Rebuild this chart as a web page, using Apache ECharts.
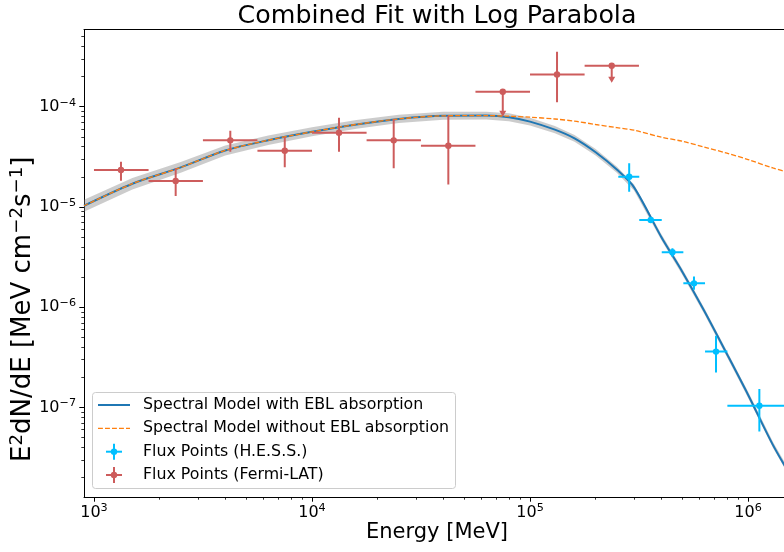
<!DOCTYPE html>
<html><head><meta charset="utf-8">
<script src="https://cdn.jsdelivr.net/npm/echarts@6/dist/echarts.min.js"></script>
<style>html,body{margin:0;padding:0;background:#fff}#c{width:784px;height:552px}</style>
</head><body><div id="c"></div>
<script>
// ---------------- data ----------------
const modelE = [900, 1500, 2500, 4000, 6300, 10000, 16000, 25000, 40000, 63000, 80000, 100000, 130000, 160000, 200000, 250000, 300000, 400000, 500000, 630000, 800000, 1000000, 1300000, 1600000];
const fluxWithEbl = [1.028e-5, 1.706e-5, 2.48e-5, 3.66e-5, 4.63e-5, 5.62e-5, 6.66e-5, 7.55e-5, 8.11e-5, 8.15e-5, 7.87e-5, 7.10e-5, 5.90e-5, 4.83e-5, 3.51e-5, 2.36e-5, 1.57e-5, 5.02e-6, 2.25e-6, 9.18e-7, 3.42e-7, 1.34e-7, 4.24e-8, 1.94e-8];
const fluxWithoutEbl = [1.028e-5, 1.706e-5, 2.48e-5, 3.66e-5, 4.63e-5, 5.62e-5, 6.66e-5, 7.55e-5, 8.11e-5, 8.15e-5, 8.04e-5, 7.86e-5, 7.54e-5, 7.18e-5, 6.65e-5, 6.18e-5, 5.83e-5, 4.97e-5, 4.52e-5, 3.96e-5, 3.44e-5, 2.97e-5, 2.45e-5, 2.15e-5];
const bandLow = [8.95e-6, 1.497e-5, 2.19e-5, 3.26e-5, 4.16e-5, 5.07e-5, 6.03e-5, 6.87e-5, 7.40e-5, 7.44e-5, 7.18e-5, 6.51e-5, 5.43e-5, 4.47e-5, 3.26e-5, 2.20e-5, 1.46e-5, 4.68e-6, 2.10e-6, 8.56e-7, 3.19e-7, 1.25e-7, 3.96e-8, 1.81e-8];
const bandHigh = [1.18e-5, 1.945e-5, 2.81e-5, 4.11e-5, 5.16e-5, 6.23e-5, 7.35e-5, 8.30e-5, 8.89e-5, 8.93e-5, 8.62e-5, 7.75e-5, 6.41e-5, 5.22e-5, 3.78e-5, 2.53e-5, 1.68e-5, 5.38e-6, 2.41e-6, 9.84e-7, 3.67e-7, 1.44e-7, 4.55e-8, 2.08e-8];

const fermiE   = [1330, 2370, 4220, 7500, 13300, 23700, 42200, 75000, 133000, 237000];
const fermiElo = [1000, 1780, 3160, 5620, 10000, 17800, 31600, 56200, 100000, 178000];
const fermiEhi = [1780, 3160, 5620, 10000, 17800, 31600, 56200, 100000, 178000, 316000];
const fermiF   = [2.34e-5, 1.82e-5, 4.62e-5, 3.64e-5, 5.51e-5, 4.62e-5, 4.08e-5, 1.41e-4, 2.10e-4, 2.56e-4];
const fermiFlo = [1.83e-5, 1.29e-5, 3.56e-5, 2.49e-5, 3.56e-5, 2.43e-5, 1.68e-5, 8.91e-5, 1.11e-4, 1.94e-4];
const fermiFhi = [2.83e-5, 2.43e-5, 5.77e-5, 4.95e-5, 7.77e-5, 7.48e-5, 8.13e-5, 1.41e-4, 3.53e-4, 2.56e-4];
const fermiUpperLimit = [0, 0, 0, 0, 0, 0, 0, 1, 0, 1];

const hessE   = [285000, 358000, 450000, 565000, 713000, 1127000];
const hessElo = [254000, 317000, 402000, 505000, 635000, 804000];
const hessEhi = [317000, 402000, 505000, 635000, 804000, 1570000];
const hessF   = [2.00e-5, 7.41e-6, 3.53e-6, 1.73e-6, 3.61e-7, 1.04e-7];
const hessFlo = [1.42e-5, 7.05e-6, 3.19e-6, 1.49e-6, 2.23e-7, 5.75e-8];
const hessFhi = [2.73e-5, 7.80e-6, 3.87e-6, 2.02e-6, 5.18e-7, 1.53e-7];

const xMajorTicks = [1e3, 1e4, 1e5, 1e6];
const yMajorTicks = [1e-7, 1e-6, 1e-5, 1e-4];
const xRange = [900, 1.462e6];
const yRange = [1.28e-8, 5.89e-4];

const titleText = 'Combined Fit with Log Parabola';
const xName = 'Energy [MeV]';
const yNameRich = 'E{s|2}dN/dE [MeV cm{s|−2}s{s|−1}]';
const legendNames = ['Spectral Model with EBL absorption', 'Spectral Model without EBL absorption', 'Flux Points (H.E.S.S.)', 'Flux Points (Fermi-LAT)'];

// ---------------- styling ----------------
const FONT = 'DejaVu Sans';
const C_EBL = '#1f77b4', C_NOEBL = '#ff7f0e', C_HESS = '#00bfff', C_FERMI = '#cd5c5c';

function powLabel(v) {
  const e = Math.round(v);
  return '{b|10}{s|' + (e < 0 ? '−' + (-e) : String(e)) + '}';
}
const tickRich = {
  b: {fontFamily: FONT, fontSize: 16, color: '#000'},
  s: {fontFamily: FONT, fontSize: 11.2, color: '#000', padding: [0, 0, 8, 0]}
};
function minorTicks(lo, hi) {
  const out = [];
  for (let p = Math.floor(Math.log10(lo)); p <= Math.ceil(Math.log10(hi)); p++) {
    for (let m = 2; m <= 9; m++) {
      const v = m * Math.pow(10, p);
      if (v > lo && v < hi) out.push(Math.log10(v));
    }
  }
  return out;
}
const lx = xRange.map(Math.log10), ly = yRange.map(Math.log10);

function errorbarRenderer(color) {
  return function (params, api) {
    const x = api.value(0), y = api.value(1);
    const c = api.coord([x, y]);
    const l = api.coord([api.value(2), y]), r = api.coord([api.value(3), y]);
    const lo = api.coord([x, api.value(4)]), hi = api.coord([x, api.value(5)]);
    const ul = api.value(6) === 1;
    const ls = {stroke: color, lineWidth: 2, fill: null};
    const children = [
      {type: 'line', shape: {x1: l[0], y1: c[1], x2: r[0], y2: c[1]}, style: ls},
      {type: 'line', shape: {x1: c[0], y1: hi[1], x2: c[0], y2: lo[1]}, style: ls}
    ];
    if (ul) {
      children.push({type: 'polygon', shape: {points: [[c[0] - 3.5, lo[1] - 1], [c[0] + 3.5, lo[1] - 1], [c[0], lo[1] + 5]]}, style: {fill: color}});
    }
    children.push({type: 'circle', shape: {cx: c[0], cy: c[1], r: 3.2}, style: {fill: color}});
    return {type: 'group', children};
  };
}

const fermiData = fermiE.map((e, i) => [e, fermiF[i], fermiElo[i], fermiEhi[i], fermiFlo[i], fermiFhi[i], fermiUpperLimit[i]]);
const hessData = hessE.map((e, i) => [e, hessF[i], hessElo[i], hessEhi[i], hessFlo[i], hessFhi[i], 0]);
const bandData = modelE.map((e, i) => [e, bandLow[i], bandHigh[i]]);

const chart = echarts.init(document.getElementById('c'), null, {renderer: 'canvas'});

const valueAxisBase = {type: 'value', splitLine: {show: false}, axisLine: {onZero: false}};

const legendRows = [405, 428.3, 451.7, 475];
function crossHandle(y, color) {
  return [
    {type: 'line', shape: {x1: 106, y1: y, x2: 122, y2: y}, style: {stroke: color, lineWidth: 2}, z: 101},
    {type: 'line', shape: {x1: 114, y1: y - 8, x2: 114, y2: y + 8}, style: {stroke: color, lineWidth: 2}, z: 101},
    {type: 'circle', shape: {cx: 114, cy: y, r: 3.2}, style: {fill: color}, z: 101}
  ];
}
const legendGraphic = [
  {type: 'rect', shape: {x: 92.5, y: 392.5, width: 363, height: 96, r: 3}, style: {fill: 'rgba(255,255,255,0.8)', stroke: '#cccccc', lineWidth: 1}, z: 100},
  {type: 'line', shape: {x1: 98, y1: legendRows[0], x2: 130, y2: legendRows[0]}, style: {stroke: C_EBL, lineWidth: 2}, z: 101},
  {type: 'line', shape: {x1: 98, y1: legendRows[1], x2: 130, y2: legendRows[1]}, style: {stroke: C_NOEBL, lineWidth: 1.33, lineDash: [4.9, 2.1]}, z: 101},
  ...crossHandle(legendRows[2], C_HESS),
  ...crossHandle(legendRows[3], C_FERMI)
].concat(legendNames.map((t, i) => ({
  type: 'text', x: 143, y: legendRows[i], z: 101,
  style: {text: t, fontSize: 15.8, fontFamily: FONT, fill: '#000', align: 'left', verticalAlign: 'middle'}
})));

chart.setOption({
  animation: false,
  textStyle: {fontFamily: FONT},
  title: {
    text: titleText, left: 437, top: 4, padding: 0, textAlign: 'center',
    textStyle: {fontFamily: FONT, fontSize: 25.3, fontWeight: 'normal', color: '#000'}
  },
  grid: {left: 84, right: 0, top: 29.5, bottom: 55, containLabel: false, outerBoundsMode: 'none'},
  xAxis: [
    {type: 'log', min: xRange[0], max: xRange[1], show: false, splitLine: {show: false}, axisLine: {onZero: false}},
    Object.assign({}, valueAxisBase, {
      min: lx[0], max: lx[1], position: 'bottom',
      axisLine: {show: true, onZero: false, lineStyle: {color: '#000', width: 1}},
      axisTick: {show: true, length: 4.7, lineStyle: {color: '#000', width: 1}, customValues: xMajorTicks.map(Math.log10)},
      axisLabel: {show: true, margin: 6, customValues: xMajorTicks.map(Math.log10), formatter: powLabel, rich: tickRich},
      name: xName, nameLocation: 'middle', nameGap: 25, nameMoveOverlap: false,
      nameTextStyle: {fontFamily: FONT, fontSize: 21, color: '#000', padding: [0, 0, 0, 6]}
    }),
    Object.assign({}, valueAxisBase, {
      min: lx[0], max: lx[1], position: 'bottom',
      axisLine: {show: false, onZero: false},
      axisTick: {show: true, length: 2.7, lineStyle: {color: '#000', width: 0.8}, customValues: minorTicks(xRange[0], xRange[1])},
      axisLabel: {show: false}
    }),
    Object.assign({}, valueAxisBase, {
      min: lx[0], max: lx[1], position: 'top',
      axisLine: {show: true, onZero: false, lineStyle: {color: '#000', width: 1}},
      axisTick: {show: false}, axisLabel: {show: false}
    })
  ],
  yAxis: [
    {type: 'log', min: yRange[0], max: yRange[1], show: false, splitLine: {show: false}, axisLine: {onZero: false}},
    Object.assign({}, valueAxisBase, {
      min: ly[0], max: ly[1], position: 'left',
      axisLine: {show: true, onZero: false, lineStyle: {color: '#000', width: 1}},
      axisTick: {show: true, length: 4.7, lineStyle: {color: '#000', width: 1}, customValues: yMajorTicks.map(Math.log10)},
      axisLabel: {show: true, margin: 8, customValues: yMajorTicks.map(Math.log10), formatter: powLabel, rich: tickRich},
      name: yNameRich, nameLocation: 'middle', nameGap: 45, nameRotate: 90, nameMoveOverlap: false,
      nameTextStyle: {
        fontFamily: FONT, fontSize: 26, color: '#000', padding: [0, 92, 0, 0],
        rich: {
          s: {fontFamily: FONT, fontSize: 18.2, color: '#000', padding: [0, 0, 13, 0]}
        }
      }
    }),
    Object.assign({}, valueAxisBase, {
      min: ly[0], max: ly[1], position: 'left',
      axisLine: {show: false, onZero: false},
      axisTick: {show: true, length: 2.7, lineStyle: {color: '#000', width: 0.8}, customValues: minorTicks(yRange[0], yRange[1])},
      axisLabel: {show: false}
    })
  ],
  series: [
    {
      name: 'band', type: 'custom', xAxisIndex: 0, yAxisIndex: 0, data: bandData, clip: true, z: 1,
      encode: {x: 0, y: [1, 2]},
      renderItem: function (params, api) {
        if (params.dataIndex !== 0) return null;
        const up = bandData.map(d => api.coord([d[0], d[2]]));
        const dn = bandData.map(d => api.coord([d[0], d[1]])).reverse();
        return {type: 'polygon', shape: {points: up.concat(dn)}, style: {fill: 'rgba(128,128,128,0.4)'}};
      }
    },
    {
      name: legendNames[0], type: 'line', xAxisIndex: 0, yAxisIndex: 0, z: 2,
      data: modelE.map((e, i) => [e, fluxWithEbl[i]]),
      symbol: 'none', showSymbol: false, smooth: 0.3, clip: true,
      lineStyle: {color: C_EBL, width: 2}
    },
    {
      name: legendNames[1], type: 'line', xAxisIndex: 0, yAxisIndex: 0, z: 3,
      data: modelE.map((e, i) => [e, fluxWithoutEbl[i]]),
      symbol: 'none', showSymbol: false, smooth: 0.3, clip: true,
      lineStyle: {color: C_NOEBL, width: 1.33, type: [4.9, 2.1]}
    },
    {
      name: legendNames[3], type: 'custom', xAxisIndex: 0, yAxisIndex: 0, z: 4, clip: true,
      data: fermiData, encode: {x: 0, y: 1}, renderItem: errorbarRenderer(C_FERMI)
    },
    {
      name: legendNames[2], type: 'custom', xAxisIndex: 0, yAxisIndex: 0, z: 5, clip: true,
      data: hessData, encode: {x: 0, y: 1}, renderItem: errorbarRenderer(C_HESS)
    }
  ],
  graphic: legendGraphic
});
</script>
</body></html>
